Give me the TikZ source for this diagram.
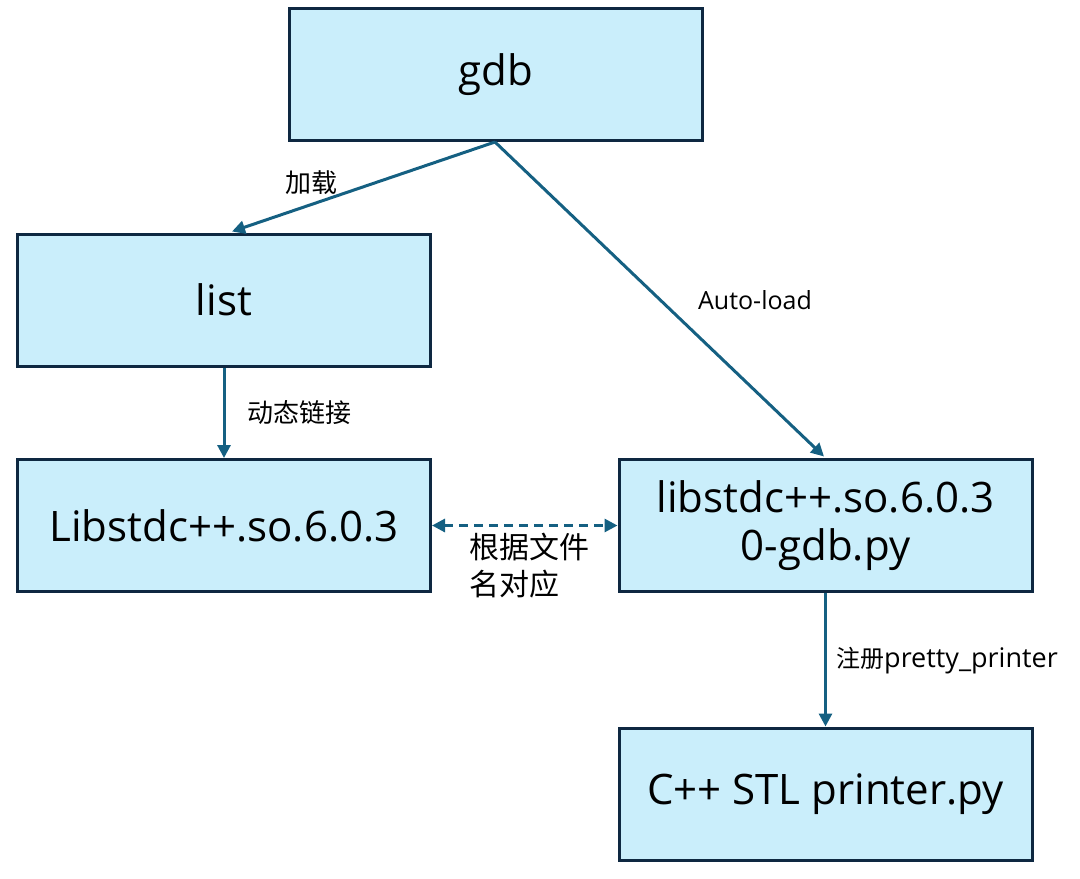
\documentclass[tikz,border=0pt]{standalone}
\usepackage{fontspec}
\setmainfont{Open Sans}
\newfontfamily\cjk{Noto Sans CJK SC}
\usetikzlibrary{arrows.meta}
\definecolor{boxfill}{HTML}{CAEEFB}
\definecolor{boxline}{HTML}{0E2841}
\definecolor{arr}{HTML}{156082}
\begin{document}
\begin{tikzpicture}[x=1pt,y=-1pt,
  box/.style={draw=boxline,fill=boxfill,line width=3pt,minimum width=413pt,minimum height=132pt,inner sep=0pt,align=center,font=\fontsize{42}{48}\selectfont},
  conn/.style={draw=arr,line width=3pt,-{Triangle[length=13pt,width=13pt]}},
  lbl/.style={font=\fontsize{25}{30}\selectfont,inner sep=0pt,align=left},
  clbl/.style={font=\fontsize{26}{32}\selectfont\cjk,inner sep=0pt,align=left}]
\useasboundingbox (0,0) rectangle (1080,879);
\node[box] (gdb) at (495.5,74.5) {gdb};
\node[box] (list) at (224,300) {list};
\node[box] (lib) at (224,525.5) {Libstdc++.so.6.0.3};
\node[box] (py) at (825.5,525.5) {libstdc++.so.6.0.3\\0-gdb.py};
\node[box] (stl) at (825.5,794) {C++ STL printer.py};
\coordinate (g) at (495,142);
\draw[conn] (g) -- (232,231.5);
\draw[conn] (g) -- (824,456.5);
\draw[conn] (list.south) -- (lib.north);
\draw[conn] (py.south) -- (stl.north);
\draw[draw=arr,line width=3pt,dashed,dash pattern=on 9pt off 6pt,{Triangle[length=13pt,width=13pt]}-{Triangle[length=13pt,width=13pt]}] (lib.east) -- (py.east -| py.west);
\node[clbl] (l1) at (311,183) {加载};
\node[lbl] (l2) at (755,300) {Auto-load};
\node[clbl,anchor=west] (l3) at (247,413) {动态链接};
\node[clbl,anchor=north west,font=\fontsize{30}{37}\selectfont\cjk] (l4) at (469,533) {根据文件\\名对应};
\node[lbl,anchor=west] (l5) at (836,661) {{\cjk\fontsize{24}{30}\selectfont 注册}{\fontsize{27}{30}\selectfont pretty\_printer}};
\end{tikzpicture}
\end{document}
